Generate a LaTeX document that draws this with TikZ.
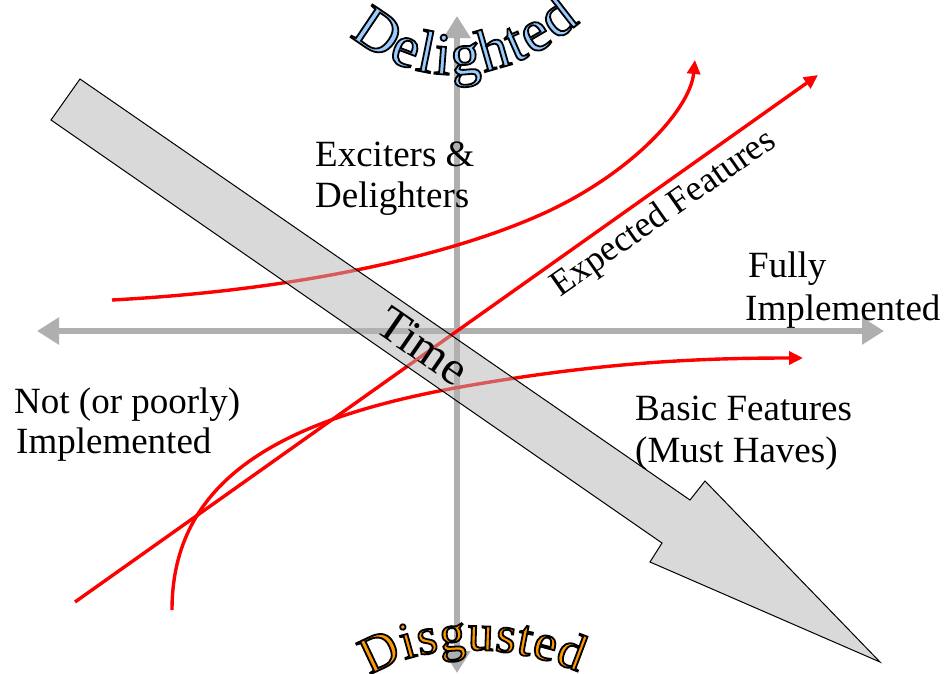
\documentclass[tikz,border=0pt]{standalone}
\usepackage{fontspec}
\setmainfont{Liberation Serif}
\usetikzlibrary{arrows.meta,decorations.text}
\definecolor{axisgray}{RGB}{175,175,175}
\definecolor{timegray}{RGB}{180,180,180}
\definecolor{dlblue}{RGB}{153,204,255}
\definecolor{dgorange}{RGB}{255,153,0}
\newcommand\olfill[1]{\color{#1}\special{pdf:literal direct 0 0 0 RG 1.8 w 2 Tr}}
\begin{document}
\begin{tikzpicture}[x=1pt,y=-1pt,
  axis/.style={draw=axisgray, line width=6pt, -{Triangle[length=22pt,width=26pt]}},
  redcurve/.style={draw=red, line width=3.4pt, -{Triangle[length=14pt,width=13pt]}},
  lbl/.style={font=\fontsize{37}{43}\selectfont, anchor=base west, inner sep=0pt},
]
\useasboundingbox (0,0) rectangle (946,673);
\fill[white] (0,0) rectangle (946,673);
% axes
\coordinate (O) at (457,331);
\coordinate (xl) at (37,331);
\coordinate (xr) at (884,331);
\coordinate (yt) at (457,16);
\coordinate (yb) at (457,673);
\draw[axis] (O) -- (xl);
\draw[axis] (O) -- (xr);
\draw[axis] (O) -- (yt);
\draw[axis] (O) -- (yb);
% red curves
\coordinate (e0) at (112,300);
\coordinate (e1) at (540,215);
\coordinate (e2) at (695,60);
\draw[redcurve] (e0) .. controls (300,290) and (450,255) .. (e1)
  .. controls (630,175) and (690,110) .. (e2);
\coordinate (x0) at (75,602);
\coordinate (x1) at (818,75);
\draw[redcurve] (x0) -- (x1);
\coordinate (b0) at (172,610);
\coordinate (b1) at (455,388);
\coordinate (b2) at (803,358);
\draw[redcurve] (b0) .. controls (172,480) and (280,420) .. (b1)
  .. controls (600,362) and (700,358) .. (b2);
% time arrow
\filldraw[fill=timegray, fill opacity=0.5, draw=black, line width=1pt]
  (80,79) -- (690,500) -- (705,481) -- (880,662) -- (650,562) -- (662,543) -- (51,120) -- cycle;
\node[font=\fontsize{48}{48}\selectfont, rotate=-34.6, inner sep=0pt] (time) at (423,346) {Time};
% labels
\node[lbl] (exc1) at (315,166) {Exciters \&};
\node[lbl] (exc2) at (315,207) {Delighters};
\node[lbl] (not1) at (14,413) {Not (or poorly)};
\node[lbl] (not2) at (16,453) {Implemented};
\node[lbl] (ful1) at (748,277) {Fully};
\node[lbl] (ful2) at (745,320) {Implemented};
\node[lbl] (bas1) at (635,420) {Basic Features};
\node[lbl] (bas2) at (635,462) {(Must Haves)};
\node[font=\fontsize{36}{40}\selectfont, rotate=35, inner sep=0pt] (exp) at (664,214) {Expected Features};
% arched words
\path[decorate, decoration={text along path, text align={fit to path},
  text={|\fontsize{60}{60}\selectfont\olfill{dlblue}|Delighted}}]
  (350,35) .. controls (410,88) and (500,92) .. (580,22);
\path[decorate, decoration={text along path, text align={fit to path},
  text={|\fontsize{52}{52}\selectfont\olfill{dgorange}|Disgusted}}]
  (370,676) .. controls (420,642) and (510,642) .. (578,672);
\end{tikzpicture}
\end{document}
